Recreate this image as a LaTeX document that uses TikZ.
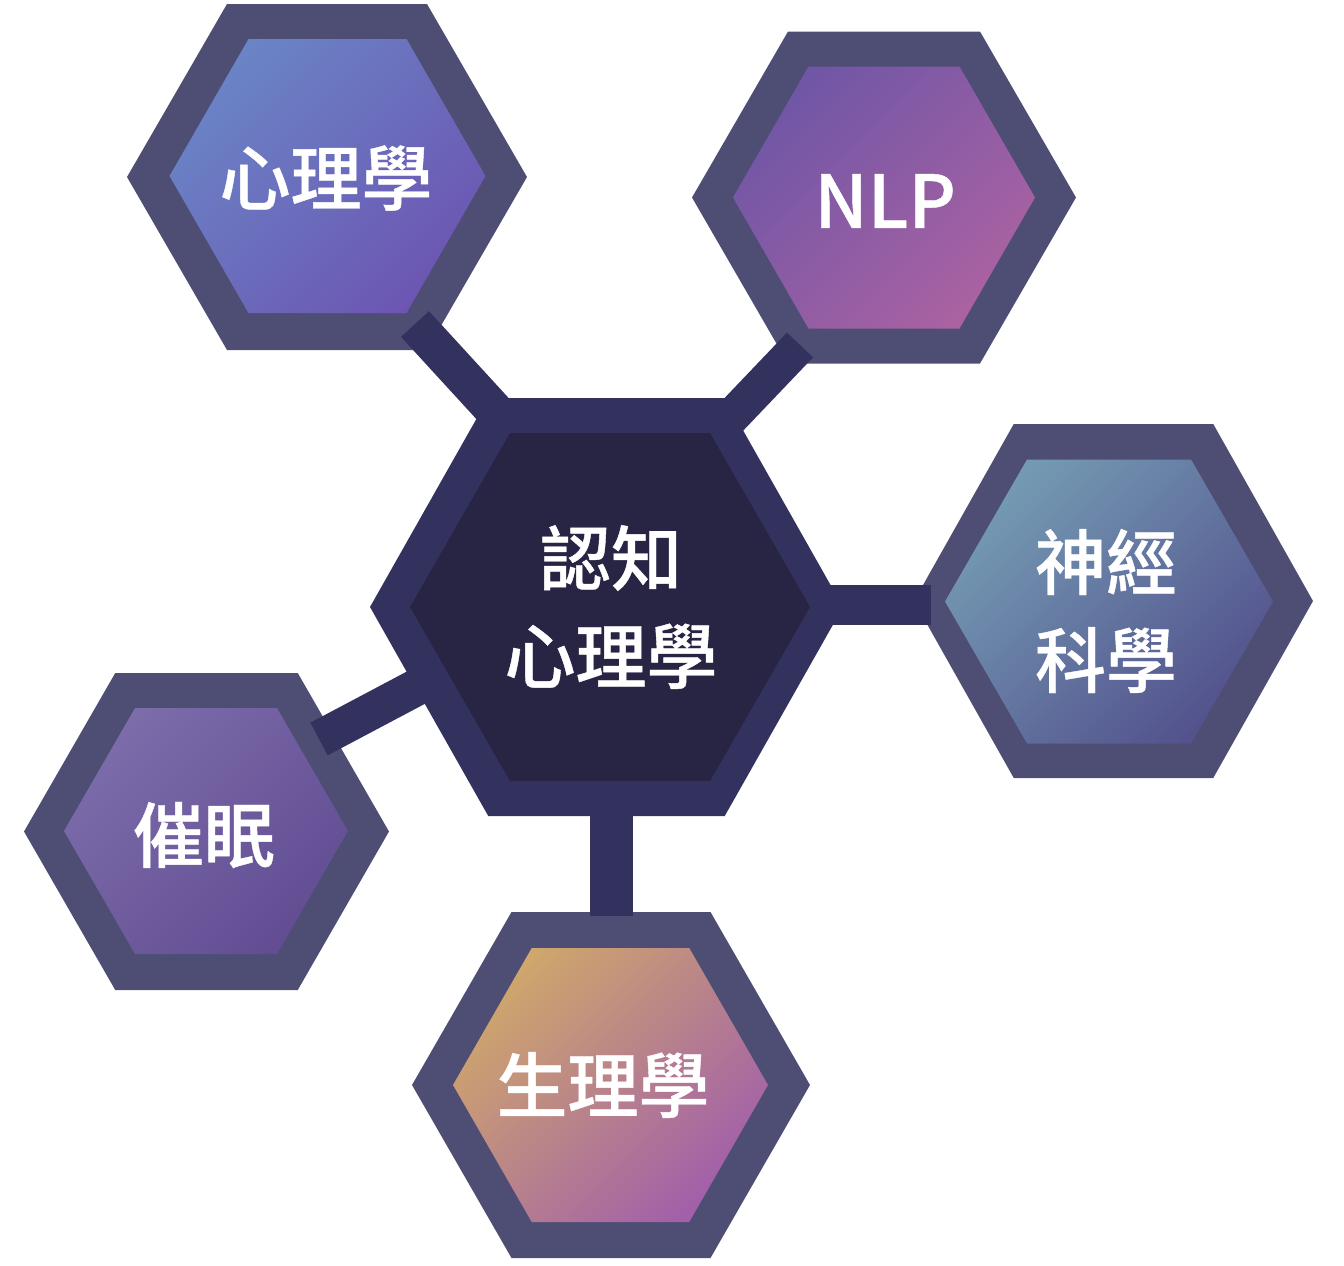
\documentclass[tikz,border=0pt]{standalone}
\usepackage{fontspec}
\IfFontExistsTF{Noto Sans CJK TC Medium}
  {\newfontfamily\cjk{Noto Sans CJK TC Medium}[FakeBold=0.6]\newcommand\cjkw{}}
  {\newfontfamily\cjk{Noto Sans CJK TC}\newcommand\cjkw{\bfseries}}
\definecolor{bordc}{HTML}{4E4E74}
\definecolor{barc}{HTML}{33325F}
\definecolor{centc}{HTML}{272444}
\definecolor{psyA}{HTML}{6A84C6}
\definecolor{psyB}{HTML}{6C56B2}
\definecolor{nlpA}{HTML}{7056A6}
\definecolor{nlpB}{HTML}{AA62A2}
\definecolor{neuA}{HTML}{749AB3}
\definecolor{neuB}{HTML}{53528D}
\definecolor{hypA}{HTML}{7C6CAA}
\definecolor{hypB}{HTML}{624D93}
\definecolor{phyA}{HTML}{CFA66C}
\definecolor{phyB}{HTML}{A25FAA}
\newcommand\myhex[5]{\path[#5] ({#1-#3},#2) -- ({#1-#3/2},{#2-#4}) -- ({#1+#3/2},{#2-#4}) -- ({#1+#3},#2) -- ({#1+#3/2},{#2+#4}) -- ({#1-#3/2},{#2+#4}) -- cycle;}
\begin{document}
\begin{tikzpicture}[x=1pt,y=-1pt,
  outerhex/.style={fill=bordc},
  grad/.style 2 args={top color=#1, bottom color=#2, shading angle=45},
  barline/.style={draw=barc, line cap=butt},
  lbl/.style={text=white, font=\cjk\cjkw\fontsize{71}{98}\selectfont, align=center, inner sep=0pt}]
\useasboundingbox (0,0) rectangle (1344,1266);
% satellites
\myhex{327}{177}{200}{173}{outerhex}
\myhex{327.5}{176}{158}{137}{grad={psyA}{psyB}}
\myhex{884}{197.5}{192}{166}{outerhex}
\myhex{884}{197.5}{151}{131}{grad={nlpA}{nlpB}}
\myhex{1113.5}{601}{199.5}{177}{outerhex}
\myhex{1109}{601.5}{164}{142}{grad={neuA}{neuB}}
\myhex{206.5}{831.5}{182.5}{158.5}{outerhex}
\myhex{206}{831}{142}{123}{grad={hypA}{hypB}}
\myhex{611}{1085}{199}{173}{outerhex}
\myhex{610.5}{1085}{157.5}{137}{grad={phyA}{phyB}}
% connector ends
\coordinate (tlA) at (415,324);  \coordinate (tlB) at (536,456);
\coordinate (trA) at (800,345);  \coordinate (trB) at (717,432);
\coordinate (rA) at (931,605);   \coordinate (rB) at (815,605);
\coordinate (blA) at (319,739);  \coordinate (blB) at (436,677);
\coordinate (bA) at (611,916);   \coordinate (bB) at (611,800);
\draw[barline, line width=38pt] (tlA) -- (tlB);
\draw[barline, line width=36pt] (trA) -- (trB);
\draw[barline, line width=40pt] (rA) -- (rB);
\draw[barline, line width=37pt] (blA) -- (blB);
\draw[barline, line width=43pt] (bA) -- (bB);
% centre
\myhex{606.5}{607}{236.5}{209}{fill=barc}
\myhex{610}{607}{200}{174}{fill=centc}
% labels
\node[lbl] (cen) at (611,607) {認知\\心理學};
\node[lbl] (psy) at (326,178) {心理學};
\node[lbl, font=\cjk\cjkw\fontsize{73}{98}\selectfont] (nlp) at (885,201) {NLP};
\node[lbl] (neu) at (1106,611) {神經\\科學};
\node[lbl] (hyp) at (204,835) {催眠};
\node[lbl] (phy) at (603,1085) {生理學};
\end{tikzpicture}
\end{document}
